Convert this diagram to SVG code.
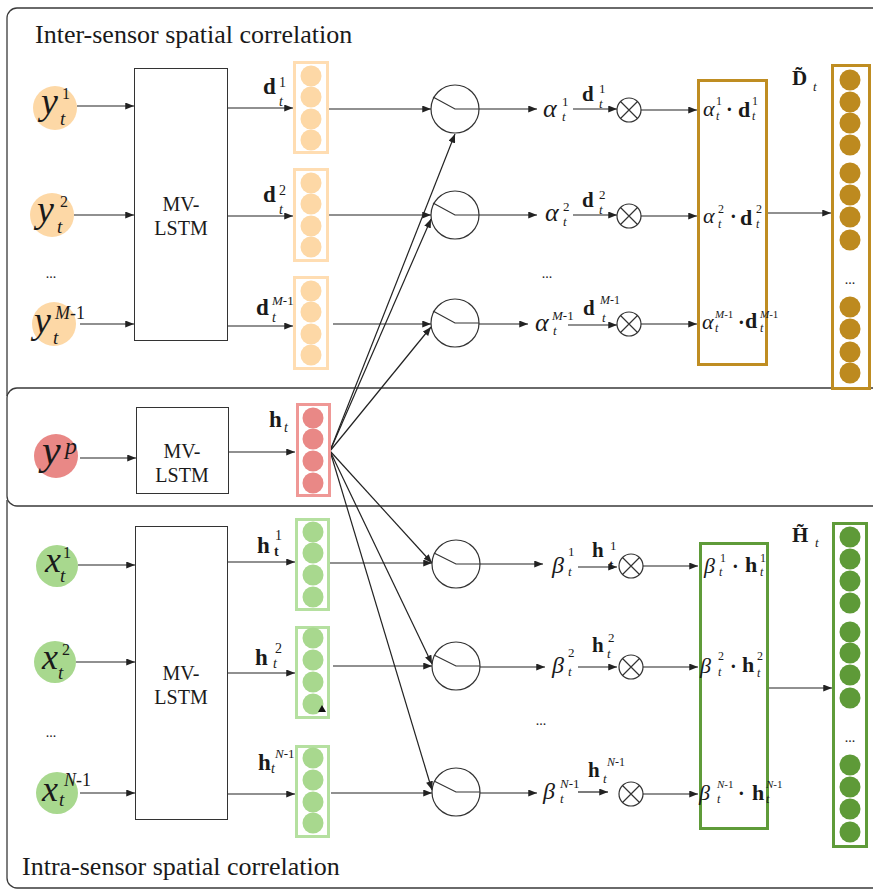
<svg xmlns="http://www.w3.org/2000/svg" width="873" height="891" viewBox="0 0 873 891">
<defs>
<marker id="ah" viewBox="0 0 10 8" refX="10" refY="4" markerWidth="9" markerHeight="7" markerUnits="userSpaceOnUse" orient="auto"><path d="M0,0 L10,4 L0,8 z" fill="#222"/></marker>
<style>
.pn{fill:none;stroke:#3a3a3a;stroke-width:1.3}
.mv{fill:#fff;stroke:#333;stroke-width:1}
.c{stroke:#222;stroke-width:1.2;fill:none;marker-end:url(#ah)}
.at{fill:#fff;stroke:#333;stroke-width:1.2}
.sw{fill:none;stroke:#333;stroke-width:1.2}
.vo{fill:none;stroke:#FFDDB2;stroke-width:3}
.co{fill:#FDD8A6}
.vr{fill:none;stroke:#EF9896;stroke-width:3}
.cr{fill:#E98886}
.vg{fill:none;stroke:#B5E0A0;stroke-width:3}
.cg{fill:#A8D88E}
.gd{fill:#fff;stroke:#BF8D22;stroke-width:3}
.cgd{fill:#BD8A1F}
.dg{fill:#fff;stroke:#5F9B39;stroke-width:3}
.cdg{fill:#5E9A38}
text{font-family:"Liberation Serif","Times New Roman",serif;fill:#1a1a1a}
.i{font-style:italic}
.b{font-weight:bold}
.mvt{font-size:20px;text-anchor:middle}
.dots{font-size:14px;text-anchor:middle}
.ttl{font-size:26px}
</style>
</defs>
<rect width="873" height="891" fill="#fff"/>

<g id="panels">
<path class="pn" d="M7,396 V18 A10,10 0 0 1 17,8 H900"/>
<rect class="pn" x="7" y="388" width="900" height="118" rx="10"/>
<path class="pn" d="M7,500 V878 A10,10 0 0 0 17,888 H900"/>
<text class="ttl" x="35" y="43">Inter-sensor spatial correlation</text>
<text class="ttl" x="22" y="875">Intra-sensor spatial correlation</text>
</g>

<g id="connectors">
<path class="c" d="M77,106 H134"/>
<path class="c" d="M74,215 H134"/>
<path class="c" d="M80,324 H134"/>
<path class="c" d="M228,108 H293"/>
<path class="c" d="M228,216 H293"/>
<path class="c" d="M228,326 H293"/>
<path class="c" d="M329,109 H431"/>
<path class="c" d="M329,215 H431"/>
<path class="c" d="M333,324 H431"/>
<path class="c" d="M479,109 H537"/>
<path class="c" d="M479,215 H537"/>
<path class="c" d="M479,324 H528"/>
<path class="c" d="M573,109 H617"/>
<path class="c" d="M573,215 H617"/>
<path class="c" d="M568,325 H617"/>
<path class="c" d="M641,110 H697"/>
<path class="c" d="M641,216 H697"/>
<path class="c" d="M641,324 H697"/>
<path class="c" d="M767,213 H831"/>
<path class="c" d="M80,458 H136"/>
<path class="c" d="M229,452 H295"/>
<path class="c" d="M330,451 L455,134"/>
<path class="c" d="M330,451 L431,219"/>
<path class="c" d="M330,451 L431,327"/>
<path class="c" d="M330,451 L432,563"/>
<path class="c" d="M330,451 L432,664"/>
<path class="c" d="M330,451 L432,790"/>
<path class="c" d="M78,565 H135"/>
<path class="c" d="M76,662 H135"/>
<path class="c" d="M80,793 H135"/>
<path class="c" d="M228,562 H295"/>
<path class="c" d="M228,673 H295"/>
<path class="c" d="M228,794 H295"/>
<path class="c" d="M329,563 H432"/>
<path class="c" d="M333,666 H432"/>
<path class="c" d="M331,793 H432"/>
<path class="c" d="M480,564 H543"/>
<path class="c" d="M480,667 H545"/>
<path class="c" d="M480,793 H537"/>
<path class="c" d="M578,567 H617"/>
<path class="c" d="M578,667 H617"/>
<path class="c" d="M578,792 H608"/>
<path class="c" d="M643,566 H698"/>
<path class="c" d="M643,667 H698"/>
<path class="c" d="M643,794 H698"/>
<path class="c" d="M769,688 H832"/>
<g id="connector-labels">
<text class="b" x="582" y="101" font-size="21">d</text><text x="599" y="93" font-size="13">1</text><text class="i" x="599" y="108" font-size="13">t</text>
<text class="b" x="582" y="207" font-size="21">d</text><text x="599" y="199" font-size="13">2</text><text class="i" x="599" y="214" font-size="13">t</text>
<text class="b" x="583" y="315" font-size="21">d</text><text x="600" y="304" font-size="12"><tspan class="i">M</tspan>-1</text><text class="i" x="602" y="322" font-size="13">t</text>
<text class="b" x="592" y="557" font-size="21">h</text><text x="610" y="550" font-size="13">1</text><text class="b" x="609" y="569" font-size="13">t</text>
<text class="b" x="592" y="652" font-size="21">h</text><text x="608" y="642" font-size="13">2</text><text class="i" x="607" y="658" font-size="13">t</text>
<text class="b" x="588" y="777" font-size="21">h</text><text x="607" y="766" font-size="12"><tspan class="i">N</tspan>-1</text><text class="i" x="603" y="783" font-size="13">t</text>
</g>
</g>

<g id="y1"><circle class="co" cx="55" cy="108" r="22"/><text class="i" x="41" y="114" font-size="38">y</text><text x="62" y="99" font-size="16">1</text><text class="i" x="60" y="125" font-size="19">t</text></g>
<g id="y2"><circle class="co" cx="52" cy="215" r="22"/><text class="i" x="37" y="222" font-size="38">y</text><text x="60" y="207" font-size="16">2</text><text class="i" x="57" y="233" font-size="19">t</text></g>
<text class="dots" x="51" y="278">...</text>
<g id="yM"><circle class="co" cx="54" cy="324" r="22"/><text class="i" x="34" y="333" font-size="38">y</text><text x="55" y="319" font-size="18"><tspan class="i">M</tspan>-1</text><text class="i" x="53" y="344" font-size="19">t</text></g>

<g id="mvlstm-top"><rect class="mv" x="134.5" y="68.5" width="93" height="272"/><text class="mvt" x="181" y="211">MV-</text><text class="mvt" x="181" y="235">LSTM</text></g>

<g id="d1"><rect class="vo" x="294.5" y="62.5" width="33" height="90"/><circle class="co" cx="311" cy="76" r="10.5"/><circle class="co" cx="311" cy="97" r="10.5"/><circle class="co" cx="311" cy="119" r="10.5"/><circle class="co" cx="311" cy="140" r="10.5"/>
<text class="b" x="263" y="94" font-size="23">d</text><text x="279" y="87" font-size="14">1</text><text class="i" x="279" y="106" font-size="14">t</text></g>
<g id="d2"><rect class="vo" x="294.5" y="169.5" width="33" height="91"/><circle class="co" cx="311" cy="183" r="10.5"/><circle class="co" cx="311" cy="204" r="10.5"/><circle class="co" cx="311" cy="226" r="10.5"/><circle class="co" cx="311" cy="247" r="10.5"/>
<text class="b" x="263" y="202" font-size="23">d</text><text x="279" y="195" font-size="14">2</text><text class="i" x="279" y="214" font-size="14">t</text></g>
<g id="dM"><rect class="vo" x="294.5" y="277.5" width="33" height="91"/><circle class="co" cx="311" cy="291" r="10.5"/><circle class="co" cx="311" cy="312" r="10.5"/><circle class="co" cx="311" cy="334" r="10.5"/><circle class="co" cx="311" cy="355" r="10.5"/>
<text class="b" x="256" y="315" font-size="23">d</text><text x="272" y="305" font-size="13"><tspan class="i">M</tspan>-1</text><text class="i" x="272" y="322" font-size="14">t</text></g>

<g id="A1"><circle class="at" cx="455" cy="109" r="24"/><path class="sw" d="M433,97 L455,109 H479"/></g>
<g id="A2"><circle class="at" cx="455" cy="215" r="24"/><path class="sw" d="M433,203 L455,215 H479"/></g>
<g id="A3"><circle class="at" cx="455" cy="323" r="24"/><path class="sw" d="M433,311 L455,323 H479"/></g>

<g id="alpha1"><text class="i" x="543" y="117" font-size="26">α</text><text x="562" y="106" font-size="13">1</text><text class="i" x="562" y="121" font-size="13">t</text></g>
<g id="alpha2"><text class="i" x="545" y="221" font-size="26">α</text><text x="563" y="211" font-size="13">2</text><text class="i" x="563" y="226" font-size="13">t</text></g>
<text class="dots" x="547" y="278">...</text>
<g id="alphaM"><text class="i" x="535" y="331" font-size="26">α</text><text x="552" y="320" font-size="13"><tspan class="i">M</tspan>-1</text><text class="i" x="553" y="335" font-size="13">t</text></g>

<g id="m1"><circle class="at" cx="629" cy="110" r="12"/><path class="sw" d="M620.5,101.5 L637.5,118.5 M637.5,101.5 L620.5,118.5"/></g>
<g id="m2"><circle class="at" cx="629" cy="216" r="12"/><path class="sw" d="M620.5,207.5 L637.5,224.5 M637.5,207.5 L620.5,224.5"/></g>
<g id="m3"><circle class="at" cx="629" cy="324" r="12"/><path class="sw" d="M620.5,315.5 L637.5,332.5 M637.5,315.5 L620.5,332.5"/></g>

<g id="alpha-d"><rect class="gd" x="698.5" y="80.5" width="68" height="284"/>
<text class="i" x="703" y="116" font-size="22">α</text><text x="716" y="105" font-size="12">1</text><text class="i" x="716" y="120" font-size="12">t</text><text class="b" x="726" y="116" font-size="20">·</text><text class="b" x="738" y="117" font-size="22">d</text><text x="752" y="105" font-size="12">1</text><text class="i" x="752" y="120" font-size="12">t</text>
<text class="i" x="703" y="223" font-size="22">α</text><text x="718" y="213" font-size="12">2</text><text class="i" x="718" y="228" font-size="12">t</text><text class="b" x="730" y="223" font-size="20">·</text><text class="b" x="740" y="225" font-size="22">d</text><text x="756" y="213" font-size="12">2</text><text class="i" x="756" y="228" font-size="12">t</text>
<text class="i" x="702" y="329" font-size="22">α</text><text x="715" y="318" font-size="11"><tspan class="i">M</tspan>-1</text><text class="i" x="715" y="332" font-size="12">t</text><text class="b" x="738" y="329" font-size="20">·</text><text class="b" x="745" y="328" font-size="22">d</text><text x="760" y="318" font-size="11"><tspan class="i">M</tspan>-1</text><text class="i" x="760" y="332" font-size="12">t</text></g>

<g id="D"><rect class="gd" x="832.5" y="65.5" width="37" height="323"/>
<circle class="cgd" cx="850" cy="80" r="10.5"/><circle class="cgd" cx="850" cy="102" r="10.5"/><circle class="cgd" cx="850" cy="123" r="10.5"/><circle class="cgd" cx="850" cy="145" r="10.5"/>
<circle class="cgd" cx="850" cy="173" r="10.5"/><circle class="cgd" cx="850" cy="195" r="10.5"/><circle class="cgd" cx="850" cy="217" r="10.5"/><circle class="cgd" cx="850" cy="240" r="10.5"/>
<text class="dots" x="850" y="284">...</text>
<circle class="cgd" cx="850" cy="307" r="10.5"/><circle class="cgd" cx="850" cy="329" r="10.5"/><circle class="cgd" cx="850" cy="352" r="10.5"/><circle class="cgd" cx="850" cy="373" r="10.5"/>
<text class="b" x="792" y="85" font-size="21">D&#x303;</text><text class="i" x="813" y="91" font-size="13">t</text></g>

<g id="yp"><circle class="cr" cx="56" cy="456" r="22"/><text class="i" x="42" y="464" font-size="42">y</text><text class="i" x="65" y="454" font-size="24">p</text></g>
<g id="mvlstm-mid"><rect class="mv" x="136.5" y="407.5" width="92" height="86"/><text class="mvt" x="182" y="458">MV-</text><text class="mvt" x="182" y="482">LSTM</text></g>
<g id="hp"><rect class="vr" x="297.5" y="404.5" width="32" height="91"/><circle class="cr" cx="313" cy="418" r="10.5"/><circle class="cr" cx="313" cy="439" r="10.5"/><circle class="cr" cx="313" cy="461" r="10.5"/><circle class="cr" cx="313" cy="483" r="10.5"/>
<text class="b" x="269" y="427" font-size="23">h</text><text class="i" x="284" y="432" font-size="14">t</text></g>

<g id="x1"><circle class="cg" cx="57" cy="566" r="21"/><text class="i" x="45" y="572" font-size="36">x</text><text x="63" y="558" font-size="16">1</text><text class="i" x="60" y="582" font-size="19">t</text></g>
<g id="x2"><circle class="cg" cx="55" cy="662" r="21"/><text class="i" x="42" y="669" font-size="36">x</text><text x="62" y="655" font-size="16">2</text><text class="i" x="58" y="679" font-size="19">t</text></g>
<text class="dots" x="51" y="737">...</text>
<g id="xN"><circle class="cg" cx="57" cy="793" r="21"/><text class="i" x="42" y="801" font-size="36">x</text><text x="64" y="786" font-size="18"><tspan class="i">N</tspan>-1</text><text class="i" x="59" y="806" font-size="19">t</text></g>

<g id="mvlstm-bot"><rect class="mv" x="135.5" y="526.5" width="92" height="293"/><text class="mvt" x="181" y="680">MV-</text><text class="mvt" x="181" y="704">LSTM</text></g>

<g id="h1"><rect class="vg" x="296.5" y="519.5" width="32" height="90"/><circle class="cg" cx="313" cy="532" r="10.5"/><circle class="cg" cx="313" cy="553" r="10.5"/><circle class="cg" cx="313" cy="575" r="10.5"/><circle class="cg" cx="313" cy="597" r="10.5"/>
<text class="b" x="257" y="553" font-size="23">h</text><text x="275" y="540" font-size="14">1</text><text class="b" x="274" y="556" font-size="14">t</text></g>
<g id="h2"><rect class="vg" x="296.5" y="627.5" width="32" height="90"/><circle class="cg" cx="313" cy="638" r="10.5"/><circle class="cg" cx="313" cy="660" r="10.5"/><circle class="cg" cx="313" cy="682" r="10.5"/><circle class="cg" cx="313" cy="704" r="10.5"/>
<polygon points="318,712 322,705 326,712" fill="#111"/>
<text class="b" x="255" y="665" font-size="23">h</text><text x="275" y="653" font-size="14">2</text><text class="i" x="273" y="668" font-size="14">t</text></g>
<g id="hN"><rect class="vg" x="296.5" y="746.5" width="32" height="90"/><circle class="cg" cx="313" cy="758" r="10.5"/><circle class="cg" cx="313" cy="780" r="10.5"/><circle class="cg" cx="313" cy="802" r="10.5"/><circle class="cg" cx="313" cy="823" r="10.5"/>
<text class="b" x="258" y="770" font-size="23">h</text><text x="275" y="758" font-size="13"><tspan class="i">N</tspan>-1</text><text class="i" x="271" y="773" font-size="14">t</text></g>

<g id="B1"><circle class="at" cx="456" cy="564" r="24"/><path class="sw" d="M434,553 L456,564 H480"/></g>
<g id="B2"><circle class="at" cx="456" cy="666" r="24"/><path class="sw" d="M434,655 L456,666 H480"/></g>
<g id="B3"><circle class="at" cx="456" cy="792" r="24"/><path class="sw" d="M434,781 L456,792 H480"/></g>

<g id="beta1"><text class="i" x="552" y="573" font-size="24">β</text><text x="568" y="556" font-size="13">1</text><text class="i" x="568" y="576" font-size="13">t</text></g>
<g id="beta2"><text class="i" x="552" y="673" font-size="24">β</text><text x="568" y="657" font-size="13">2</text><text class="i" x="568" y="676" font-size="13">t</text></g>
<text class="dots" x="541" y="725">...</text>
<g id="betaN"><text class="i" x="543" y="799" font-size="24">β</text><text x="560" y="788" font-size="13"><tspan class="i">N</tspan>-1</text><text class="i" x="560" y="803" font-size="13">t</text></g>

<g id="n1"><circle class="at" cx="631" cy="566" r="12"/><path class="sw" d="M622.5,557.5 L639.5,574.5 M639.5,557.5 L622.5,574.5"/></g>
<g id="n2"><circle class="at" cx="631" cy="667" r="12"/><path class="sw" d="M622.5,658.5 L639.5,675.5 M639.5,658.5 L622.5,675.5"/></g>
<g id="n3"><circle class="at" cx="631" cy="794" r="12"/><path class="sw" d="M622.5,785.5 L639.5,802.5 M639.5,785.5 L622.5,802.5"/></g>

<g id="beta-h"><rect class="dg" x="700.5" y="543.5" width="67" height="285"/>
<text class="i" x="704" y="573" font-size="22">β</text><text x="720" y="562" font-size="12">1</text><text class="i" x="719" y="576" font-size="12">t</text><text class="b" x="732" y="573" font-size="20">·</text><text class="b" x="745" y="572" font-size="22">h</text><text x="760" y="562" font-size="12">1</text><text class="i" x="760" y="576" font-size="12">t</text>
<text class="i" x="700" y="673" font-size="22">β</text><text x="718" y="660" font-size="12">2</text><text class="i" x="718" y="676" font-size="12">t</text><text class="b" x="730" y="673" font-size="20">·</text><text class="b" x="742" y="672" font-size="22">h</text><text x="757" y="660" font-size="12">2</text><text class="i" x="757" y="677" font-size="12">t</text>
<text class="i" x="699" y="800" font-size="22">β</text><text x="717" y="788" font-size="11"><tspan class="i">N</tspan>-1</text><text class="i" x="717" y="803" font-size="12">t</text><text class="b" x="738" y="800" font-size="20">·</text><text class="b" x="752" y="800" font-size="22">h</text><text x="766" y="788" font-size="11"><tspan class="i">N</tspan>-1</text><text class="i" x="766" y="803" font-size="12">t</text></g>

<g id="H"><rect class="dg" x="833.5" y="523.5" width="33" height="323"/>
<circle class="cdg" cx="850" cy="537" r="10.5"/><circle class="cdg" cx="850" cy="559" r="10.5"/><circle class="cdg" cx="850" cy="581" r="10.5"/><circle class="cdg" cx="850" cy="603" r="10.5"/>
<circle class="cdg" cx="850" cy="632" r="10.5"/><circle class="cdg" cx="850" cy="653" r="10.5"/><circle class="cdg" cx="850" cy="675" r="10.5"/><circle class="cdg" cx="850" cy="698" r="10.5"/>
<text class="dots" x="850" y="742">...</text>
<circle class="cdg" cx="850" cy="765" r="10.5"/><circle class="cdg" cx="850" cy="787" r="10.5"/><circle class="cdg" cx="850" cy="809" r="10.5"/><circle class="cdg" cx="850" cy="832" r="10.5"/>
<text class="b" x="792" y="542" font-size="21">H&#x303;</text><text class="i" x="815" y="547" font-size="13">t</text></g>
</svg>
